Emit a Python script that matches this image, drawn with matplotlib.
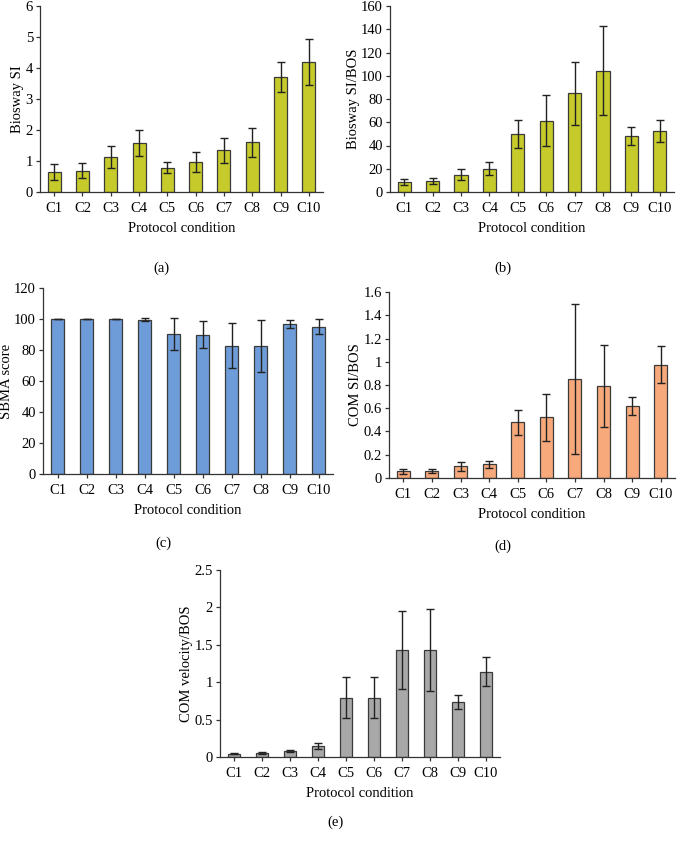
import matplotlib
matplotlib.use("Agg")
import matplotlib.pyplot as plt
import numpy as np

plt.rcParams["font.family"] = ["Liberation Serif", "DejaVu Serif"]

conditions = ["C1", "C2", "C3", "C4", "C5", "C6", "C7", "C8", "C9", "C10"]

biosway_si = [0.64, 0.69, 1.14, 1.58, 0.78, 0.97, 1.34, 1.61, 3.71, 4.19]
biosway_si_err = [0.25, 0.23, 0.35, 0.42, 0.18, 0.31, 0.41, 0.47, 0.48, 0.75]

biosway_si_bos = [8.6, 9.5, 14.9, 20.1, 49.9, 61.4, 84.9, 104.4, 47.9, 52.5]
biosway_si_bos_err = [2.7, 2.6, 4.6, 5.4, 12.0, 21.8, 27.0, 38.5, 7.7, 9.4]

sbma = [100, 100, 100, 99.4, 90.3, 89.8, 82.8, 82.5, 96.9, 95.0]
sbma_err = [0, 0, 0, 1.0, 10.3, 8.7, 14.5, 17.0, 2.7, 4.7]

com_si_bos = [0.057, 0.060, 0.100, 0.117, 0.478, 0.521, 0.853, 0.793, 0.618, 0.973]
com_si_bos_err = [0.020, 0.018, 0.037, 0.032, 0.110, 0.200, 0.644, 0.350, 0.080, 0.160]

com_vel_bos = [0.045, 0.055, 0.080, 0.147, 0.795, 0.795, 1.433, 1.430, 0.737, 1.143]
com_vel_bos_err = [0.010, 0.012, 0.015, 0.045, 0.270, 0.280, 0.520, 0.550, 0.095, 0.190]

W, H = 677, 843
fig = plt.figure(figsize=(W / 100, H / 100), dpi=100)


def box(l, r, t, b):
    return [l / W, 1 - b / H, (r - l) / W, (b - t) / H]


panels = [
    # values, errors, colour, ylabel, ymax, ystep, axes box, letter, letter pos (px)
    (biosway_si, biosway_si_err, "#c6cb2b", "Biosway SI", 6, 1,
     box(40, 323, 6, 192), "(a)", (161, 268)),
    (biosway_si_bos, biosway_si_bos_err, "#c6cb2b", "Biosway SI/BOS", 160, 20,
     box(390, 674, 6, 192), "(b)", (503, 268)),
    (sbma, sbma_err, "#6e9cd8", "SBMA score", 120, 20,
     box(43, 333, 288, 474), "(c)", (163, 543)),
    (com_si_bos, com_si_bos_err, "#f7a97c", "COM SI/BOS", 1.6, 0.2,
     box(389, 675, 292, 478), "(d)", (503, 546)),
    (com_vel_bos, com_vel_bos_err, "#a8a8a8", "COM velocity/BOS", 2.5, 0.5,
     box(220, 500, 570, 757), "(e)", (335, 822)),
]

x = np.arange(len(conditions))
for vals, errs, col, ylab, ymax, step, rect, letter, (lx, ly) in panels:
    ax = fig.add_axes(rect)
    ax.bar(x, vals, width=0.46, color=col, edgecolor="#3a3a3a", linewidth=0.9)
    ax.errorbar(x, vals, yerr=errs, fmt="none", ecolor="#222222",
                elinewidth=1.0, capsize=2.6, capthick=1.0)
    ax.set_xlim(-0.5, len(conditions) - 0.5)
    ax.set_ylim(0, ymax)
    ticks = np.round(np.arange(0, ymax + step / 2, step), 3)
    ax.set_yticks(ticks)
    ax.set_yticklabels(["{:g}".format(t) for t in ticks])
    ax.set_xticks(x)
    ax.set_xticklabels(conditions)
    ax.tick_params(labelsize=10.5, length=3, width=0.9, color="#333333")
    ax.tick_params(axis="y", pad=2)
    ax.tick_params(axis="x", pad=4)
    for s in ("top", "right"):
        ax.spines[s].set_visible(False)
    for s in ("left", "bottom"):
        ax.spines[s].set_linewidth(0.9)
        ax.spines[s].set_color("#333333")
    ax.set_ylabel(ylab, fontsize=10.5, labelpad=1)
    ax.set_xlabel("Protocol condition", fontsize=10.5, labelpad=5)
    fig.text(lx / W, 1 - ly / H, letter, ha="center", va="center", fontsize=10.5)

fig.savefig("out.png", dpi=100)
